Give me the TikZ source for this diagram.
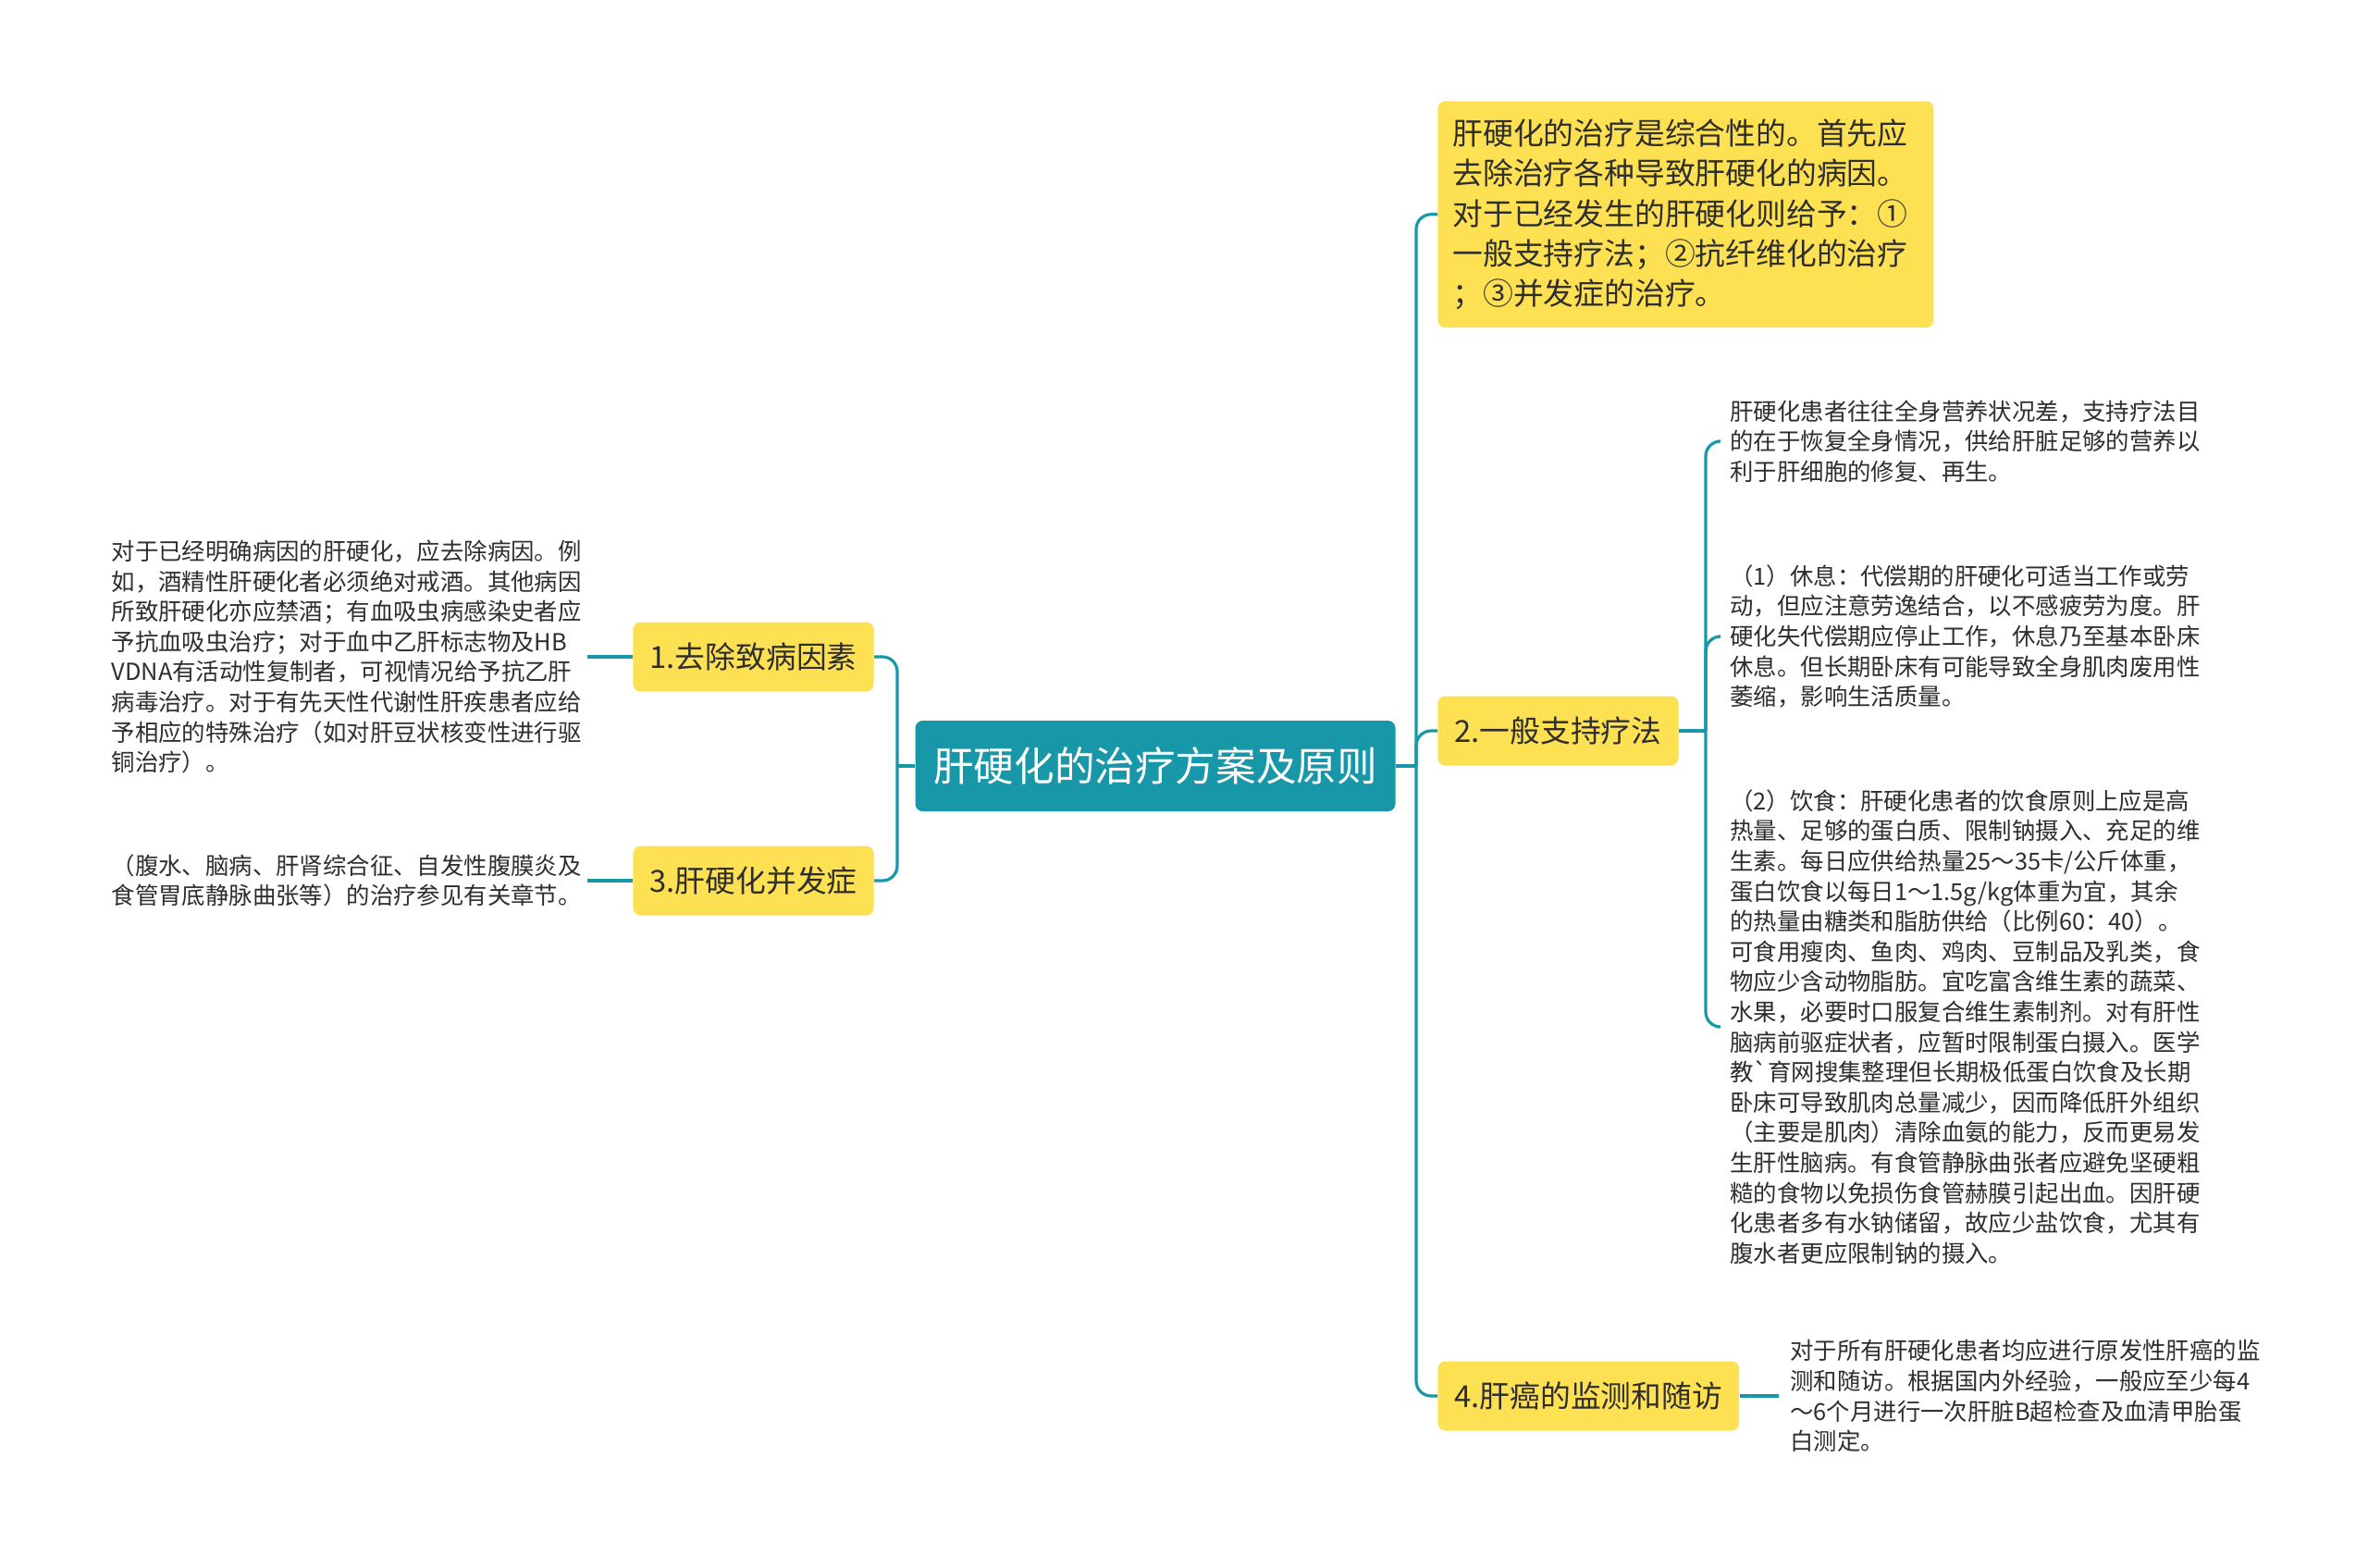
\documentclass[tikz,border=0pt]{standalone}
\usepackage{fontspec}
\setmainfont{Noto Sans CJK SC}
\usetikzlibrary{positioning}

\definecolor{mapteal}{HTML}{1797A8}
\definecolor{mapyellow}{HTML}{FDE153}
\definecolor{maptext}{HTML}{2E2E2E}

\tikzset{
  rootbox/.style={fill=mapteal, text=white, rounded corners=4pt,
    minimum width=259.5pt, minimum height=49pt, inner sep=0pt,
    font=\fontsize{21.8}{26}\selectfont},
  topicbox/.style={fill=mapyellow, text=maptext, rounded corners=4pt,
    minimum height=37.5pt, inner xsep=9pt, inner ysep=0pt,
    font=\fontsize{16.4}{20}\selectfont},
  leaftext/.style={text=maptext, align=left, inner xsep=6pt, inner ysep=0pt,
    font=\fontsize{12.7}{16.3}\selectfont},
  link/.style={draw=mapteal, line width=1.6pt, rounded corners=8pt},
}

\begin{document}
\begin{tikzpicture}[x=1pt, y=1pt]
  \useasboundingbox[fill=white] (0,0) rectangle (1280,-847);

  % Centre
  \node[rootbox] (root) at (624.5,-414) {肝硬化的治疗方案及原则};

  % Left topics
  \node[topicbox, anchor=east, minimum width=128pt] (cause) at (472.5,-355) {1.去除致病因素};
  \node[topicbox, anchor=east, minimum width=128pt] (compl) at (472.5,-476) {3.肝硬化并发症};

  % Right topics
  \node[topicbox, anchor=north west, align=left, text width=252pt,
        inner xsep=8pt, inner ysep=9.5pt, font=\fontsize{16.4}{21.7}\selectfont]
        (summary) at (777,-54.5)
    {肝硬化的治疗是综合性的。首先应\\
     去除治疗各种导致肝硬化的病因。\\
     对于已经发生的肝硬化则给予：①\\
     一般支持疗法；②抗纤维化的治疗\\
     ；③并发症的治疗。};
  \node[topicbox, anchor=west, minimum width=126pt] (support) at (777,-395) {2.一般支持疗法};
  \node[topicbox, anchor=west, minimum width=159pt] (cancer) at (777,-754.5) {4.肝癌的监测和随访};

  % Left leaves
  \node[leaftext, inner xsep=3pt, left=24.5pt of cause] (causetxt)
    {对于已经明确病因的肝硬化，应去除病因。例\\
     如，酒精性肝硬化者必须绝对戒酒。其他病因\\
     所致肝硬化亦应禁酒；有血吸虫病感染史者应\\
     予抗血吸虫治疗；对于血中乙肝标志物及HB\\
     VDNA有活动性复制者，可视情况给予抗乙肝\\
     病毒治疗。对于有先天性代谢性肝疾患者应给\\
     予相应的特殊治疗（如对肝豆状核变性进行驱\\
     铜治疗）。};
  \node[leaftext, inner xsep=3pt, left=24.5pt of compl] (compltxt)
    {（腹水、脑病、肝肾综合征、自发性腹膜炎及\\
     食管胃底静脉曲张等）的治疗参见有关章节。};

  % Right leaves
  \node[leaftext, anchor=west] (nutri) at (929,-238.5)
    {肝硬化患者往往全身营养状况差，支持疗法目\\
     的在于恢复全身情况，供给肝脏足够的营养以\\
     利于肝细胞的修复、再生。};
  \node[leaftext, anchor=west] (rest) at (929,-344)
    {（1）休息：代偿期的肝硬化可适当工作或劳\\
     动，但应注意劳逸结合，以不感疲劳为度。肝\\
     硬化失代偿期应停止工作，休息乃至基本卧床\\
     休息。但长期卧床有可能导致全身肌肉废用性\\
     萎缩，影响生活质量。};
  \node[leaftext, anchor=west] (diet) at (929,-555)
    {（2）饮食：肝硬化患者的饮食原则上应是高\\
     热量、足够的蛋白质、限制钠摄入、充足的维\\
     生素。每日应供给热量25～35卡/公斤体重，\\
     蛋白饮食以每日1～1.5g/kg体重为宜，其余\\
     的热量由糖类和脂肪供给（比例60：40）。\\
     可食用瘦肉、鱼肉、鸡肉、豆制品及乳类，食\\
     物应少含动物脂肪。宜吃富含维生素的蔬菜、\\
     水果，必要时口服复合维生素制剂。对有肝性\\
     脑病前驱症状者，应暂时限制蛋白摄入。医学\\
     教\textasciigrave 育网搜集整理但长期极低蛋白饮食及长期\\
     卧床可导致肌肉总量减少，因而降低肝外组织\\
     （主要是肌肉）清除血氨的能力，反而更易发\\
     生肝性脑病。有食管静脉曲张者应避免坚硬粗\\
     糙的食物以免损伤食管赫膜引起出血。因肝硬\\
     化患者多有水钠储留，故应少盐饮食，尤其有\\
     腹水者更应限制钠的摄入。};
  \node[leaftext, anchor=west] (screen) at (961.5,-754.5)
    {对于所有肝硬化患者均应进行原发性肝癌的监\\
     测和随访。根据国内外经验，一般应至少每4\\
     ～6个月进行一次肝脏B超检查及血清甲胎蛋\\
     白测定。};

  % Connectors
  \coordinate (lhub) at (485,-414);
  \coordinate (rhub) at (765.5,-414);
  \coordinate (shub) at (922,-395);
  \draw[link] (root.west) -- (lhub);
  \draw[link] (lhub) |- (cause.east);
  \draw[link] (lhub) |- (compl.east);
  \draw[link] (root.east) -- (rhub);
  \foreach \t in {summary, support, cancer}
    \draw[link] (rhub) |- (\t.west);
  \draw[link] (support.east) -- (shub);
  \foreach \t in {nutri, rest, diet}
    \draw[link] (shub) |- (\t.west);
  \draw[link] (causetxt.east) -- (cause.west);
  \draw[link] (compltxt.east) -- (compl.west);
  \draw[link] (cancer.east) -- (screen.west);
\end{tikzpicture}
\end{document}
